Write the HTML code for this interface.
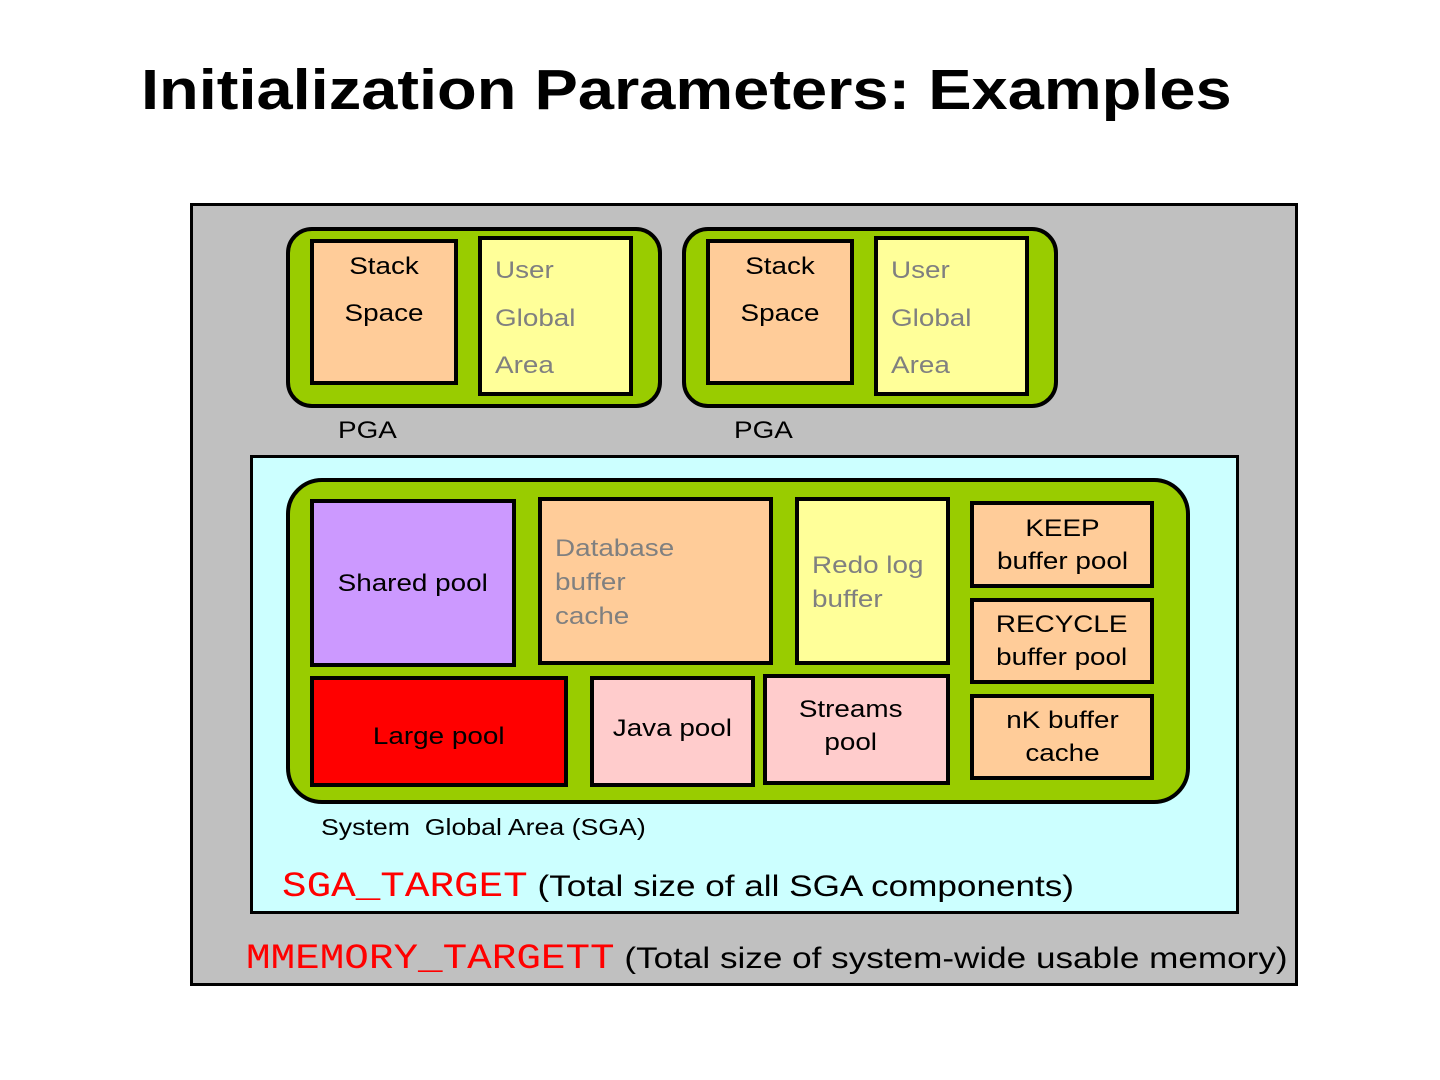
<!DOCTYPE html>
<html><head><style>
body{margin:0;width:1440px;height:1080px;background:#fff;position:relative;font-family:"Liberation Sans",sans-serif;overflow:hidden}
div{position:absolute;box-sizing:border-box}
.b{border:4px solid #000}
.t{white-space:nowrap;transform:scaleX(1.16);transform-origin:left top}
.c{display:flex;align-items:center;justify-content:center;text-align:center;line-height:33px;font-size:24px}
.c span{display:inline-block;transform:scaleX(1.16);white-space:nowrap}
.g{color:#808080}
</style></head><body>
<div class="t" style="left:141px;top:57px;font-size:57px;font-weight:bold;transform:scaleX(1.14)">Initialization Parameters: Examples</div>
<div style="left:190px;top:203px;width:1108px;height:783px;background:#c0c0c0;border:3px solid #000"></div>

<div class="b" style="left:286px;top:227px;width:376px;height:181px;background:#99cc00;border-radius:26px"></div>
<div class="b" style="left:310px;top:239px;width:148px;height:146px;background:#ffcc99"></div>
<div class="c" style="left:310px;top:243px;width:148px;height:94px;display:block;line-height:47px"><span>Stack<br>Space</span></div>
<div class="b" style="left:478px;top:236px;width:155px;height:160px;background:#ffff99"></div>
<div class="t g" style="left:495px;top:247px;font-size:24px;line-height:47.5px">User<br>Global<br>Area</div>
<div class="t" style="left:338px;top:417px;font-size:24px">PGA</div>

<div class="b" style="left:682px;top:227px;width:376px;height:181px;background:#99cc00;border-radius:26px"></div>
<div class="b" style="left:706px;top:239px;width:148px;height:146px;background:#ffcc99"></div>
<div class="c" style="left:706px;top:243px;width:148px;height:94px;display:block;line-height:47px"><span>Stack<br>Space</span></div>
<div class="b" style="left:874px;top:236px;width:155px;height:160px;background:#ffff99"></div>
<div class="t g" style="left:891px;top:247px;font-size:24px;line-height:47.5px">User<br>Global<br>Area</div>
<div class="t" style="left:734px;top:417px;font-size:24px">PGA</div>

<div style="left:250px;top:455px;width:989px;height:459px;background:#ccffff;border:3px solid #000"></div>
<div class="b" style="left:286px;top:478px;width:904px;height:326px;background:#99cc00;border-radius:36px"></div>
<div class="b c" style="left:310px;top:499px;width:206px;height:168px;background:#cc99ff"><span>Shared pool</span></div>
<div class="b" style="left:538px;top:497px;width:235px;height:168px;background:#ffcc99"></div>
<div class="t g" style="left:555px;top:532px;font-size:24px;line-height:34px">Database<br>buffer<br>cache</div>
<div class="b" style="left:795px;top:497px;width:155px;height:168px;background:#ffff99"></div>
<div class="t g" style="left:812px;top:549px;font-size:24px;line-height:34px">Redo log<br>buffer</div>
<div class="b c" style="left:970px;top:501px;width:184px;height:87px;background:#ffcc99"><span>KEEP<br>buffer pool</span></div>
<div class="b c" style="left:970px;top:598px;width:184px;height:86px;background:#ffcc99"><span>RECYCLE<br>buffer pool</span></div>
<div class="b c" style="left:970px;top:694px;width:184px;height:86px;background:#ffcc99"><span>nK buffer<br>cache</span></div>
<div class="b c" style="left:310px;top:676px;width:258px;height:111px;background:#ff0000;padding-top:10px"><span>Large pool</span></div>
<div class="b c" style="left:590px;top:676px;width:165px;height:111px;background:#ffcccc;padding-bottom:6px"><span>Java pool</span></div>
<div class="b c" style="left:763px;top:674px;width:187px;height:111px;background:#ffcccc;padding-bottom:8px;padding-right:12px"><span>Streams<br>pool</span></div>
<div class="t" style="left:321px;top:814px;font-size:23px">System &nbsp;Global Area (SGA)</div>
<div class="t" style="left:282px;top:867px;font-size:30px;transform:scaleX(1.17)"><span style="font-family:'Liberation Mono',monospace;color:#ff0000;font-size:35px">SGA_TARGET</span> (Total size of all SGA components)</div>
<div class="t" style="left:246px;top:939px;font-size:30px;transform:scaleX(1.17)"><span style="font-family:'Liberation Mono',monospace;color:#ff0000;font-size:35px">MMEMORY_TARGETT</span> (Total size of system-wide usable memory)</div>
</body></html>
